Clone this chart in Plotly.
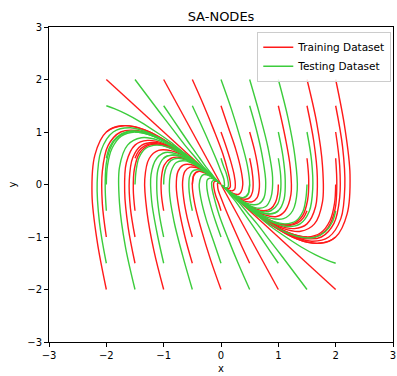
import plotly.graph_objects as go

TITLE = "SA-NODEs"
X_LABEL = "x"
Y_LABEL = "y"
TICKS = [-3, -2, -1, 0, 1, 2, 3]
SERIES_NAMES = ["Training Dataset", "Testing Dataset"]
SERIES_COLORS = ["#ff1a1a", "#3ccc3c"]

# Trajectory waypoints (x, y), one list per trajectory
TRAIN_TRAJECTORIES = [
    [(-2, -2), (-2.16, -1.08), (-2.25, -0.19), (-2.2, 0.56), (-2, 1), (-1.7, 1.12), (-1.33, 1.04), (-0.9, 0.79), (-0.51, 0.48), (-0.18, 0.17)],
    [(-2, -1), (-2.07, -0.36), (-2.07, 0.25), (-1.97, 0.74), (-1.75, 1), (-1.47, 1.03), (-1.13, 0.91), (-0.76, 0.68), (-0.43, 0.4), (-0.15, 0.14)],
    [(-2, 1), (-1.89, 1.08), (-1.73, 1.12), (-1.51, 1.1), (-1.25, 1), (-1, 0.85), (-0.74, 0.66), (-0.48, 0.45), (-0.26, 0.25), (-0.09, 0.09)],
    [(-2, 2), (-0.06, 0.06)],
    [(-1.5, -1.5), (-1.62, -0.81), (-1.68, -0.14), (-1.65, 0.42), (-1.5, 0.75), (-1.28, 0.84), (-1, 0.78), (-0.68, 0.59), (-0.38, 0.36), (-0.13, 0.13)],
    [(-1.5, -1), (-1.58, -0.45), (-1.6, 0.08), (-1.54, 0.51), (-1.38, 0.75), (-1.16, 0.8), (-0.9, 0.72), (-0.61, 0.54), (-0.34, 0.32), (-0.12, 0.12)],
    [(-1.5, -0.5), (-1.53, -0.09), (-1.51, 0.3), (-1.42, 0.6), (-1.25, 0.75), (-1.04, 0.75), (-0.8, 0.65), (-0.54, 0.48), (-0.3, 0.28), (-0.1, 0.1)],
    [(-1.5, 0.5), (-1.44, 0.63), (-1.34, 0.73), (-1.19, 0.78), (-1, 0.75), (-0.81, 0.66), (-0.6, 0.53), (-0.4, 0.37), (-0.22, 0.21), (-0.07, 0.07)],
    [(-1, -2), (-1.17, -1.26), (-1.29, -0.53), (-1.33, 0.1), (-1.25, 0.5), (-1.09, 0.65), (-0.86, 0.64), (-0.59, 0.51), (-0.34, 0.31), (-0.12, 0.11)],
    [(-1, -0.5), (-1.04, -0.18), (-1.04, 0.12), (-0.99, 0.37), (-0.87, 0.5), (-0.73, 0.52), (-0.57, 0.46), (-0.38, 0.34), (-0.21, 0.2), (-0.07, 0.07)],
    [(-1, 2), (0, 0)],
    [(-0.5, -1.5), (-0.63, -0.99), (-0.73, -0.48), (-0.78, -0.04), (-0.75, 0.25), (-0.66, 0.37), (-0.53, 0.38), (-0.37, 0.31), (-0.21, 0.19), (-0.07, 0.07)],
    [(-0.5, -1), (-0.59, -0.63), (-0.65, -0.27), (-0.67, 0.05), (-0.63, 0.25), (-0.54, 0.33), (-0.43, 0.32), (-0.3, 0.25), (-0.17, 0.16), (-0.06, 0.06)],
    [(-0.5, 0), (-0.49, 0.09), (-0.48, 0.17), (-0.44, 0.23), (-0.37, 0.25), (-0.31, 0.24), (-0.23, 0.2), (-0.16, 0.14), (-0.09, 0.08), (-0.03, 0.03)],
    [(-0.5, 2), (-0.31, 1.53), (-0.13, 1.05), (0.03, 0.59), (0.12, 0.25), (0.16, 0.05), (0.16, -0.05), (0.13, -0.08), (0.08, -0.07), (0.03, -0.03)],
    [(0, -2), (-0.18, -1.44), (-0.34, -0.87), (-0.46, -0.36), (-0.5, 0), (-0.47, 0.18), (-0.39, 0.25), (-0.28, 0.22), (-0.16, 0.15), (-0.06, 0.06)],
    [(0, -0.5), (-0.04, -0.36), (-0.09, -0.22), (-0.12, -0.09), (-0.13, 0), (-0.12, 0.05), (-0.1, 0.06), (-0.07, 0.06), (-0.04, 0.04), (-0.01, 0.01)],
    [(2, 2), (2.16, 1.08), (2.25, 0.19), (2.2, -0.56), (2, -1), (1.7, -1.12), (1.33, -1.04), (0.9, -0.79), (0.51, -0.48), (0.18, -0.17)],
    [(2, 1.5), (2.12, 0.72), (2.16, -0.03), (2.09, -0.65), (1.88, -1), (1.58, -1.08), (1.23, -0.97), (0.83, -0.73), (0.47, -0.44), (0.16, -0.16)],
    [(2, 1), (2.07, 0.36), (2.07, -0.25), (1.97, -0.74), (1.75, -1), (1.47, -1.03), (1.13, -0.91), (0.76, -0.68), (0.43, -0.4), (0.15, -0.14)],
    [(2, 0.5), (2.02, 0), (1.99, -0.47), (1.86, -0.83), (1.63, -1), (1.35, -0.99), (1.03, -0.85), (0.69, -0.62), (0.38, -0.36), (0.13, -0.13)],
    [(2, 0), (1.98, -0.36), (1.9, -0.69), (1.74, -0.92), (1.5, -1), (1.23, -0.94), (0.93, -0.79), (0.62, -0.56), (0.34, -0.33), (0.12, -0.12)],
    [(2, -1), (1.89, -1.08), (1.73, -1.12), (1.51, -1.1), (1.25, -1), (1, -0.85), (0.74, -0.66), (0.48, -0.45), (0.26, -0.25), (0.09, -0.09)],
    [(2, -2), (0.06, -0.06)],
    [(1.5, 2), (1.67, 1.17), (1.77, 0.36), (1.77, -0.33), (1.63, -0.75), (1.39, -0.89), (1.09, -0.84), (0.75, -0.65), (0.42, -0.39), (0.15, -0.14)],
    [(1.5, 1.5), (1.62, 0.81), (1.68, 0.14), (1.65, -0.42), (1.5, -0.75), (1.28, -0.84), (1, -0.78), (0.68, -0.59), (0.38, -0.36), (0.13, -0.13)],
    [(1.5, 0.5), (1.53, 0.09), (1.51, -0.3), (1.42, -0.6), (1.25, -0.75), (1.04, -0.75), (0.8, -0.65), (0.54, -0.48), (0.3, -0.28), (0.1, -0.1)],
    [(1.5, -0.5), (1.44, -0.63), (1.34, -0.73), (1.19, -0.78), (1, -0.75), (0.81, -0.66), (0.6, -0.53), (0.4, -0.37), (0.22, -0.21), (0.07, -0.07)],
    [(1.5, -1), (1.4, -0.99), (1.26, -0.95), (1.08, -0.87), (0.87, -0.75), (0.69, -0.62), (0.5, -0.47), (0.33, -0.31), (0.18, -0.17), (0.06, -0.06)],
    [(1, 1.5), (1.12, 0.9), (1.21, 0.31), (1.22, -0.19), (1.12, -0.5), (0.97, -0.61), (0.76, -0.58), (0.52, -0.45), (0.29, -0.27), (0.1, -0.1)],
    [(1, 0), (0.99, -0.18), (0.95, -0.34), (0.87, -0.46), (0.75, -0.5), (0.62, -0.47), (0.47, -0.39), (0.31, -0.28), (0.17, -0.16), (0.06, -0.06)],
    [(1, -2), (0, 0)],
    [(0.5, 1), (0.59, 0.63), (0.65, 0.27), (0.67, -0.05), (0.63, -0.25), (0.54, -0.33), (0.43, -0.32), (0.3, -0.25), (0.17, -0.16), (0.06, -0.06)],
    [(0.5, 0.5), (0.54, 0.27), (0.56, 0.05), (0.55, -0.14), (0.5, -0.25), (0.43, -0.28), (0.33, -0.26), (0.23, -0.2), (0.13, -0.12), (0.04, -0.04)],
    [(0.5, -1.5), (0.36, -1.17), (0.22, -0.83), (0.09, -0.5), (0, -0.25), (-0.05, -0.1), (-0.06, -0.01), (-0.06, 0.03), (-0.04, 0.03), (-0.01, 0.01)],
    [(0, 1.5), (0.13, 1.08), (0.26, 0.66), (0.35, 0.27), (0.38, 0), (0.35, -0.14), (0.3, -0.19), (0.21, -0.17), (0.12, -0.11), (0.04, -0.04)],
    [(0, 1), (0.09, 0.72), (0.17, 0.44), (0.23, 0.18), (0.25, 0), (0.24, -0.09), (0.2, -0.12), (0.14, -0.11), (0.08, -0.07), (0.03, -0.03)],
]

TEST_TRAJECTORIES = [
    [(-2, -1.5), (-2.12, -0.72), (-2.16, 0.03), (-2.09, 0.65), (-1.88, 1), (-1.58, 1.08), (-1.23, 0.97), (-0.83, 0.73), (-0.47, 0.44), (-0.16, 0.16)],
    [(-2, -0.5), (-2.02, 0), (-1.99, 0.47), (-1.86, 0.83), (-1.63, 1), (-1.35, 0.99), (-1.03, 0.85), (-0.69, 0.62), (-0.38, 0.36), (-0.13, 0.13)],
    [(-2, 0), (-1.98, 0.36), (-1.9, 0.69), (-1.74, 0.92), (-1.5, 1), (-1.23, 0.94), (-0.93, 0.79), (-0.62, 0.56), (-0.34, 0.33), (-0.12, 0.12)],
    [(-2, 0.5), (-1.94, 0.72), (-1.82, 0.9), (-1.63, 1.01), (-1.38, 1), (-1.11, 0.9), (-0.84, 0.73), (-0.55, 0.51), (-0.3, 0.29), (-0.1, 0.1)],
    [(-2, 1.5), (-1.85, 1.44), (-1.65, 1.34), (-1.4, 1.19), (-1.13, 1), (-0.88, 0.81), (-0.64, 0.6), (-0.41, 0.4), (-0.22, 0.22), (-0.07, 0.07)],
    [(-1.5, -2), (-1.67, -1.17), (-1.77, -0.36), (-1.77, 0.33), (-1.63, 0.75), (-1.39, 0.89), (-1.09, 0.84), (-0.75, 0.65), (-0.42, 0.39), (-0.15, 0.14)],
    [(-1.5, 0), (-1.48, 0.27), (-1.43, 0.51), (-1.31, 0.69), (-1.12, 0.75), (-0.92, 0.71), (-0.7, 0.59), (-0.47, 0.42), (-0.26, 0.25), (-0.09, 0.09)],
    [(-1.5, 1), (-1.4, 0.99), (-1.26, 0.95), (-1.08, 0.87), (-0.87, 0.75), (-0.69, 0.62), (-0.5, 0.47), (-0.33, 0.31), (-0.18, 0.17), (-0.06, 0.06)],
    [(-1.5, 2), (-1.3, 1.71), (-1.08, 1.39), (-0.84, 1.05), (-0.63, 0.75), (-0.45, 0.52), (-0.31, 0.34), (-0.18, 0.2), (-0.09, 0.1), (-0.03, 0.03)],
    [(-1, -1.5), (-1.12, -0.9), (-1.21, -0.31), (-1.22, 0.19), (-1.12, 0.5), (-0.97, 0.61), (-0.76, 0.58), (-0.52, 0.45), (-0.29, 0.27), (-0.1, 0.1)],
    [(-1, -1), (-1.08, -0.54), (-1.12, -0.09), (-1.1, 0.28), (-1, 0.5), (-0.85, 0.56), (-0.66, 0.52), (-0.45, 0.39), (-0.25, 0.24), (-0.09, 0.09)],
    [(-1, 0), (-0.99, 0.18), (-0.95, 0.34), (-0.87, 0.46), (-0.75, 0.5), (-0.62, 0.47), (-0.47, 0.39), (-0.31, 0.28), (-0.17, 0.16), (-0.06, 0.06)],
    [(-1, 0.5), (-0.95, 0.54), (-0.87, 0.56), (-0.76, 0.55), (-0.62, 0.5), (-0.5, 0.43), (-0.37, 0.33), (-0.24, 0.23), (-0.13, 0.13), (-0.04, 0.04)],
    [(-1, 1.5), (-0.85, 1.26), (-0.69, 1), (-0.52, 0.73), (-0.37, 0.5), (-0.26, 0.33), (-0.17, 0.21), (-0.1, 0.11), (-0.05, 0.05), (-0.02, 0.02)],
    [(-0.5, -2), (-0.67, -1.35), (-0.82, -0.7), (-0.9, -0.13), (-0.87, 0.25), (-0.78, 0.42), (-0.63, 0.45), (-0.44, 0.37), (-0.25, 0.23), (-0.09, 0.09)],
    [(-0.5, -0.5), (-0.54, -0.27), (-0.56, -0.05), (-0.55, 0.14), (-0.5, 0.25), (-0.43, 0.28), (-0.33, 0.26), (-0.23, 0.2), (-0.13, 0.12), (-0.04, 0.04)],
    [(-0.5, 1.5), (-0.36, 1.17), (-0.22, 0.83), (-0.09, 0.5), (0, 0.25), (0.05, 0.1), (0.06, 0.01), (0.06, -0.03), (0.04, -0.03), (0.01, -0.01)],
    [(0, -1.5), (-0.13, -1.08), (-0.26, -0.66), (-0.35, -0.27), (-0.38, 0), (-0.35, 0.14), (-0.3, 0.19), (-0.21, 0.17), (-0.12, 0.11), (-0.04, 0.04)],
    [(0, -1), (-0.09, -0.72), (-0.17, -0.44), (-0.23, -0.18), (-0.25, 0), (-0.24, 0.09), (-0.2, 0.12), (-0.14, 0.11), (-0.08, 0.07), (-0.03, 0.03)],
    [(2, -0.5), (1.94, -0.72), (1.82, -0.9), (1.63, -1.01), (1.38, -1), (1.11, -0.9), (0.84, -0.73), (0.55, -0.51), (0.3, -0.29), (0.1, -0.1)],
    [(2, -1.5), (1.85, -1.44), (1.65, -1.34), (1.4, -1.19), (1.13, -1), (0.88, -0.81), (0.64, -0.6), (0.41, -0.4), (0.22, -0.22), (0.07, -0.07)],
    [(1.5, 1), (1.58, 0.45), (1.6, -0.08), (1.54, -0.51), (1.38, -0.75), (1.16, -0.8), (0.9, -0.72), (0.61, -0.54), (0.34, -0.32), (0.12, -0.12)],
    [(1.5, 0), (1.48, -0.27), (1.43, -0.51), (1.31, -0.69), (1.12, -0.75), (0.92, -0.71), (0.7, -0.59), (0.47, -0.42), (0.26, -0.25), (0.09, -0.09)],
    [(1.5, -2), (1.3, -1.71), (1.08, -1.39), (0.84, -1.05), (0.63, -0.75), (0.45, -0.52), (0.31, -0.34), (0.18, -0.2), (0.09, -0.1), (0.03, -0.03)],
    [(1, 2), (1.17, 1.26), (1.29, 0.53), (1.33, -0.1), (1.25, -0.5), (1.09, -0.65), (0.86, -0.64), (0.59, -0.51), (0.34, -0.31), (0.12, -0.11)],
    [(1, 1), (1.08, 0.54), (1.12, 0.09), (1.1, -0.28), (1, -0.5), (0.85, -0.56), (0.66, -0.52), (0.45, -0.39), (0.25, -0.24), (0.09, -0.09)],
    [(1, 0.5), (1.04, 0.18), (1.04, -0.12), (0.99, -0.37), (0.87, -0.5), (0.73, -0.52), (0.57, -0.46), (0.38, -0.34), (0.21, -0.2), (0.07, -0.07)],
    [(1, -0.5), (0.95, -0.54), (0.87, -0.56), (0.76, -0.55), (0.62, -0.5), (0.5, -0.43), (0.37, -0.33), (0.24, -0.23), (0.13, -0.13), (0.04, -0.04)],
    [(1, -1.5), (0.85, -1.26), (0.69, -1), (0.52, -0.73), (0.37, -0.5), (0.26, -0.33), (0.17, -0.21), (0.1, -0.11), (0.05, -0.05), (0.02, -0.02)],
    [(0.5, 2), (0.67, 1.35), (0.82, 0.7), (0.9, 0.13), (0.87, -0.25), (0.78, -0.42), (0.63, -0.45), (0.44, -0.37), (0.25, -0.23), (0.09, -0.09)],
    [(0.5, 1.5), (0.63, 0.99), (0.73, 0.48), (0.78, 0.04), (0.75, -0.25), (0.66, -0.37), (0.53, -0.38), (0.37, -0.31), (0.21, -0.19), (0.07, -0.07)],
    [(0.5, 0), (0.49, -0.09), (0.48, -0.17), (0.44, -0.23), (0.37, -0.25), (0.31, -0.24), (0.23, -0.2), (0.16, -0.14), (0.09, -0.08), (0.03, -0.03)],
    [(0.5, -2), (0.31, -1.53), (0.13, -1.05), (-0.03, -0.59), (-0.12, -0.25), (-0.16, -0.05), (-0.16, 0.05), (-0.13, 0.08), (-0.08, 0.07), (-0.03, 0.03)],
    [(0, 2), (0.18, 1.44), (0.34, 0.87), (0.46, 0.36), (0.5, 0), (0.47, -0.18), (0.39, -0.25), (0.28, -0.22), (0.16, -0.15), (0.06, -0.06)],
    [(0, 0.5), (0.04, 0.36), (0.09, 0.22), (0.12, 0.09), (0.13, 0), (0.12, -0.05), (0.1, -0.06), (0.07, -0.06), (0.04, -0.04), (0.01, -0.01)],
]

fig = go.Figure()
for name, trajs, color in zip(SERIES_NAMES, [TRAIN_TRAJECTORIES, TEST_TRAJECTORIES], SERIES_COLORS):
    for i, traj in enumerate(trajs):
        fig.add_trace(go.Scatter(
            x=[p[0] for p in traj],
            y=[p[1] for p in traj],
            mode="lines",
            line=dict(color=color, width=1.4, shape="spline", smoothing=1.0),
            name=name,
            legendgroup=name,
            showlegend=(i == 0),
            hoverinfo="skip",
        ))

axis_common = dict(
    range=[-3, 3],
    tickvals=TICKS,
    showline=True,
    linecolor="black",
    linewidth=1,
    mirror=True,
    ticks="outside",
    ticklen=4,
    tickwidth=1,
    tickcolor="black",
    showgrid=False,
    zeroline=False,
    tickfont=dict(size=10, color="black"),
    automargin=False,
)

fig.update_layout(
    width=397,
    height=376,
    margin=dict(l=49, r=4, t=27, b=34),
    paper_bgcolor="white",
    plot_bgcolor="white",
    font=dict(family="DejaVu Sans", color="black"),
    title=dict(text=TITLE, x=0.5, xref="paper", xanchor="center",
               y=1 - 16 / 376, yref="container", yanchor="middle",
               font=dict(size=13)),
    xaxis=dict(axis_common, title=dict(text=X_LABEL, font=dict(size=10), standoff=4)),
    yaxis=dict(axis_common, title=dict(text=Y_LABEL, font=dict(size=10), standoff=8)),
    legend=dict(x=0.995, y=0.985, xanchor="right", yanchor="top",
                bgcolor="rgba(255,255,255,0.85)", bordercolor="#cccccc", borderwidth=1,
                font=dict(size=10.5), itemwidth=30, tracegroupgap=0),
    showlegend=True,
)

fig.write_html("out.html")
